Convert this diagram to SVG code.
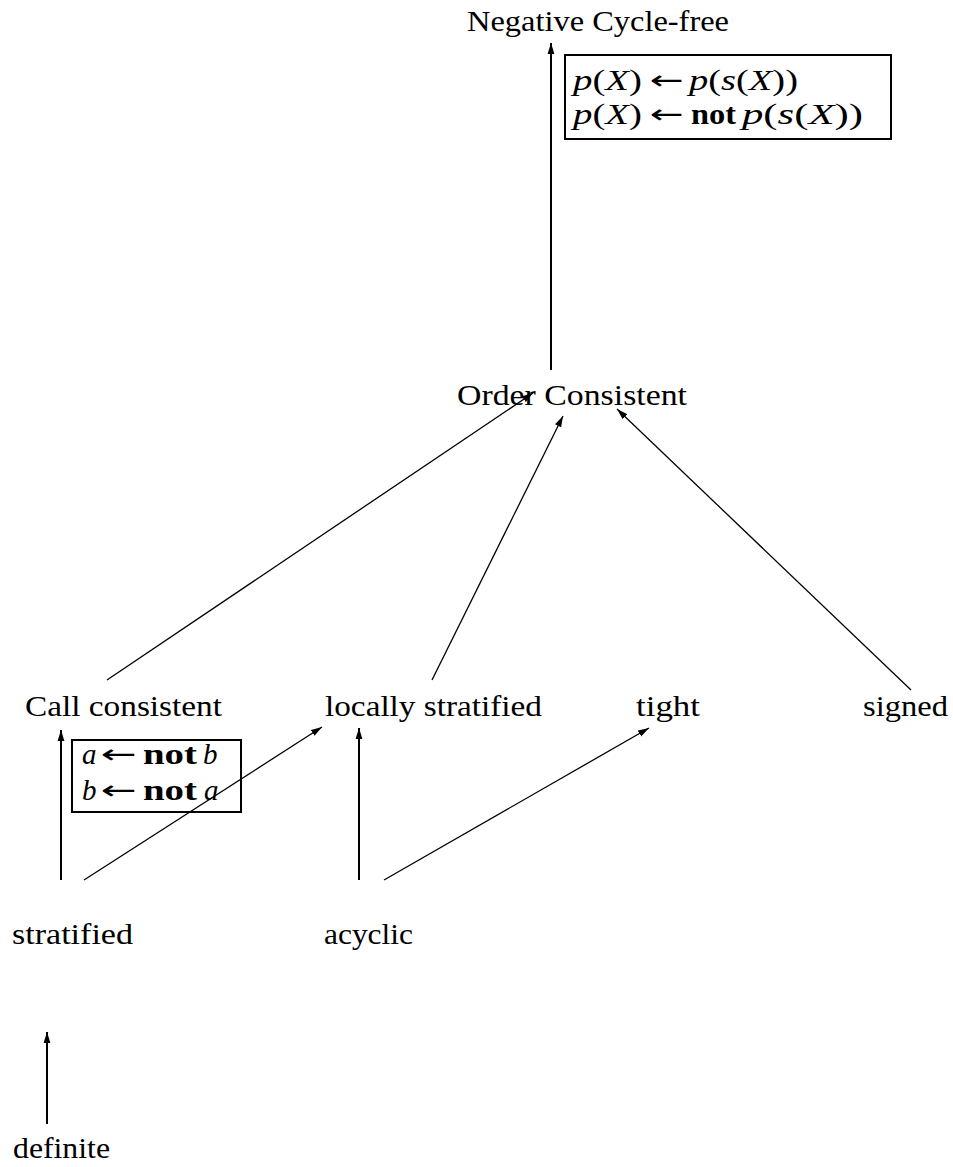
<svg xmlns="http://www.w3.org/2000/svg" width="953" height="1167" viewBox="0 0 953 1167">
  <style>
    .lbl { font-family: "Liberation Serif", "DejaVu Serif", serif; font-size: 30px; fill: #000; }
    .math { font-family: "Liberation Serif", "DejaVu Serif", serif; font-size: 29px; fill: #000; }
    .v { font-style: italic; }
    .b { font-weight: bold; }
    .arr { font-family: "DejaVu Sans", sans-serif; font-size: 26px; fill: #000; }
    .box { fill: none; stroke: #000; stroke-width: 2; }
    .edge { fill: none; stroke: #000; stroke-width: 1.3; marker-end: url(#head); }
    .edge.up { stroke-width: 2; }
  </style>
  <defs>
    <marker id="head" markerUnits="userSpaceOnUse" markerWidth="12" markerHeight="8" refX="11" refY="4" orient="auto">
      <path d="M0,0.6 L11,4 L0,7.4 Z" fill="#000"/>
    </marker>
  </defs>

  <!-- connectors -->
  <g id="edges">
    <line class="edge up" x1="551" y1="370" x2="551" y2="43"/>
    <line class="edge" x1="107" y1="680" x2="533" y2="393"/>
    <line class="edge" x1="432" y1="680" x2="563" y2="416"/>
    <line class="edge" x1="911" y1="690" x2="617" y2="409"/>
    <line class="edge up" x1="61" y1="880" x2="61" y2="730"/>
    <line class="edge" x1="84" y1="880" x2="322" y2="727"/>
    <line class="edge up" x1="359" y1="880" x2="359" y2="728"/>
    <line class="edge" x1="384" y1="880" x2="649" y2="728"/>
    <line class="edge up" x1="47" y1="1124" x2="47" y2="1032"/>
  </g>

  <g id="negative-cycle-free">
    <text class="lbl" x="467" y="31" textLength="262" lengthAdjust="spacingAndGlyphs">Negative Cycle-free</text>
  </g>

  <g id="example-ncf">
    <rect class="box" x="565" y="55" width="326" height="84"/>
    <!-- p(X) <- p(s(X)) -->
    <text class="math" x="573" y="90" textLength="69" lengthAdjust="spacingAndGlyphs"><tspan class="v">p</tspan>(<tspan class="v">X</tspan>)</text>
    <text class="arr" x="650" y="89" textLength="34" lengthAdjust="spacingAndGlyphs">←</text>
    <text class="math" x="689" y="90" textLength="109" lengthAdjust="spacingAndGlyphs"><tspan class="v">p</tspan>(<tspan class="v">s</tspan>(<tspan class="v">X</tspan>))</text>
    <!-- p(X) <- not p(s(X)) -->
    <text class="math" x="573" y="124" textLength="69" lengthAdjust="spacingAndGlyphs"><tspan class="v">p</tspan>(<tspan class="v">X</tspan>)</text>
    <text class="arr" x="650" y="123" textLength="34" lengthAdjust="spacingAndGlyphs">←</text>
    <text class="math b" x="691" y="124" textLength="45" lengthAdjust="spacingAndGlyphs">not</text>
    <text class="math" x="742" y="124" textLength="121" lengthAdjust="spacingAndGlyphs"><tspan class="v">p</tspan>(<tspan class="v">s</tspan>(<tspan class="v">X</tspan>))</text>
  </g>

  <g id="order-consistent">
    <text class="lbl" x="457" y="405" textLength="230" lengthAdjust="spacingAndGlyphs">Order Consistent</text>
  </g>

  <g id="call-consistent">
    <text class="lbl" x="25" y="716" textLength="197" lengthAdjust="spacingAndGlyphs">Call consistent</text>
  </g>

  <g id="example-cc">
    <rect class="box" x="72" y="740" width="169" height="72"/>
    <!-- a <- not b -->
    <text class="math v" x="82" y="764">a</text>
    <text class="arr" x="101" y="763" textLength="36" lengthAdjust="spacingAndGlyphs">←</text>
    <text class="math b" x="143" y="764" textLength="54" lengthAdjust="spacingAndGlyphs">not</text>
    <text class="math v" x="203" y="764">b</text>
    <!-- b <- not a -->
    <text class="math v" x="82" y="800">b</text>
    <text class="arr" x="101" y="799" textLength="36" lengthAdjust="spacingAndGlyphs">←</text>
    <text class="math b" x="143" y="800" textLength="54" lengthAdjust="spacingAndGlyphs">not</text>
    <text class="math v" x="204" y="800">a</text>
  </g>

  <g id="locally-stratified">
    <text class="lbl" x="325" y="716" textLength="217" lengthAdjust="spacingAndGlyphs">locally stratified</text>
  </g>

  <g id="tight">
    <text class="lbl" x="636" y="716" textLength="64" lengthAdjust="spacingAndGlyphs">tight</text>
  </g>

  <g id="signed">
    <text class="lbl" x="863" y="716" textLength="85" lengthAdjust="spacingAndGlyphs">signed</text>
  </g>

  <g id="stratified">
    <text class="lbl" x="12" y="944" textLength="121" lengthAdjust="spacingAndGlyphs">stratified</text>
  </g>

  <g id="acyclic">
    <text class="lbl" x="324" y="944" textLength="89" lengthAdjust="spacingAndGlyphs">acyclic</text>
  </g>

  <g id="definite">
    <text class="lbl" x="13" y="1158" textLength="97" lengthAdjust="spacingAndGlyphs">definite</text>
  </g>
</svg>
